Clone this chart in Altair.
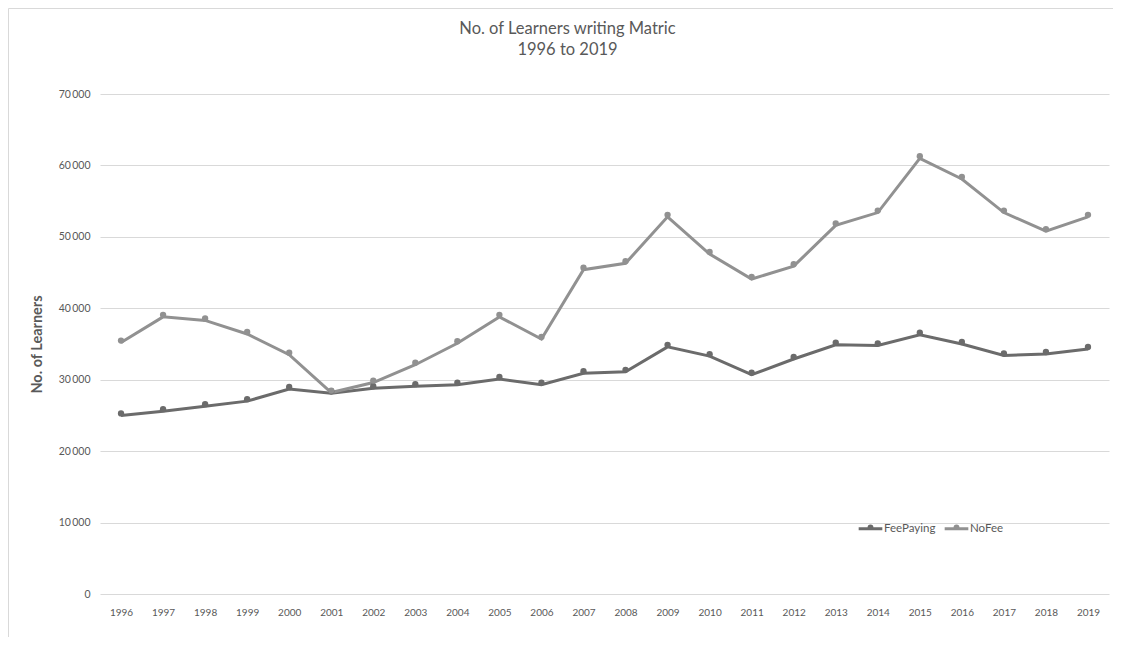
import altair as alt
import pandas as pd

years = [str(y) for y in range(1996, 2020)]
fee_paying = [25000, 25600, 26300, 27000, 28700, 28100, 28800, 29100, 29300, 30100,
              29300, 30900, 31100, 34600, 33300, 30700, 32900, 34900, 34800, 36300,
              35000, 33400, 33600, 34300]
no_fee = [35200, 38800, 38300, 36400, 33500, 28200, 29600, 32100, 35100, 38800,
          35700, 45400, 46300, 52800, 47600, 44100, 45900, 51600, 53400, 61000,
          58100, 53400, 50800, 52800]
series_names = ["FeePaying", "NoFee"]
series_colors = ["#6b6b6b", "#919191"]

rows = []
for i, y in enumerate(years):
    rows.append({"Year": y, "Series": series_names[0], "Learners": fee_paying[i]})
    rows.append({"Year": y, "Series": series_names[1], "Learners": no_fee[i]})
df = pd.DataFrame(rows)

FONT = "Lato"
GREY = "#595959"

x_enc = alt.X("Year:O", scale=alt.Scale(type="point", padding=0.5), sort=years,
              axis=alt.Axis(title=None, labelAngle=0, domain=False, ticks=False,
                            labelPadding=13, labelFontSize=10, labelColor=GREY,
                            labelFont=FONT))
y_enc = alt.Y("Learners:Q", scale=alt.Scale(domain=[0, 70000], nice=False),
              axis=alt.Axis(title="No. of Learners", values=[0, 10000, 20000, 30000, 40000, 50000, 60000, 70000],
                            labelExpr="replace(format(datum.value, ','), ',', '\u2009')",
                            domain=False, ticks=False, labelPadding=10, labelFontSize=10.5,
                            labelColor=GREY, labelFont=FONT, grid=True, gridColor="#d9d9d9",
                            titleFontSize=14.5, titleFontWeight="bold", titleColor=GREY,
                            titleFont=FONT, titlePadding=14))
color_enc = alt.Color("Series:N", scale=alt.Scale(domain=series_names, range=series_colors),
                      legend=alt.Legend(title=None, orient="none", legendX=757, legendY=421,
                                        direction="horizontal",
                                        symbolType="M-1,0L1,0M-0.12,-0.12a0.12,0.12 0 1,0 0.24,0a0.12,0.12 0 1,0 -0.24,0",
                                        symbolSize=560, symbolStrokeWidth=3,
                                        labelFont=FONT, labelFontSize=11.5, labelColor=GREY,
                                        labelOffset=0, columnPadding=2, padding=0))

base = alt.Chart(df)
lines = base.mark_line(strokeWidth=3).encode(x=x_enc, y=y_enc, color=color_enc)
points = base.mark_circle(size=40, opacity=1, yOffset=-2).encode(
    x=x_enc, y=y_enc,
    color=alt.Color("Series:N", scale=alt.Scale(domain=series_names, range=series_colors), legend=None))

frame_df = pd.DataFrame({"k": [0]})
frame_top = alt.Chart(frame_df).mark_rule(color="#d9d9d9", strokeWidth=1, clip=False).encode(
    x=alt.value(-91.5), x2=alt.value(1013), y=alt.value(-85.5), y2=alt.value(-85.5))
frame_left = alt.Chart(frame_df).mark_rule(color="#d9d9d9", strokeWidth=1, clip=False).encode(
    x=alt.value(-91.5), x2=alt.value(-91.5), y=alt.value(-85.5), y2=alt.value(543))

chart = alt.layer(frame_top, frame_left, lines, points).properties(
    width=1009, height=500,
    title=alt.TitleParams(text=["No. of Learners writing Matric", "1996 to 2019"],
                          fontSize=16.5, font=FONT, fontWeight="normal", color=GREY,
                          anchor="middle", frame="group", dx=-37, offset=-50, lineHeight=21),
    autosize=alt.AutoSizeParams(type="none"),
    padding={"left": 92, "top": 86, "right": 6, "bottom": 44},
).configure(background="white", view=alt.ViewConfig(stroke=None))

chart.save("out.html", embed_options={"renderer": "svg", "actions": False})
